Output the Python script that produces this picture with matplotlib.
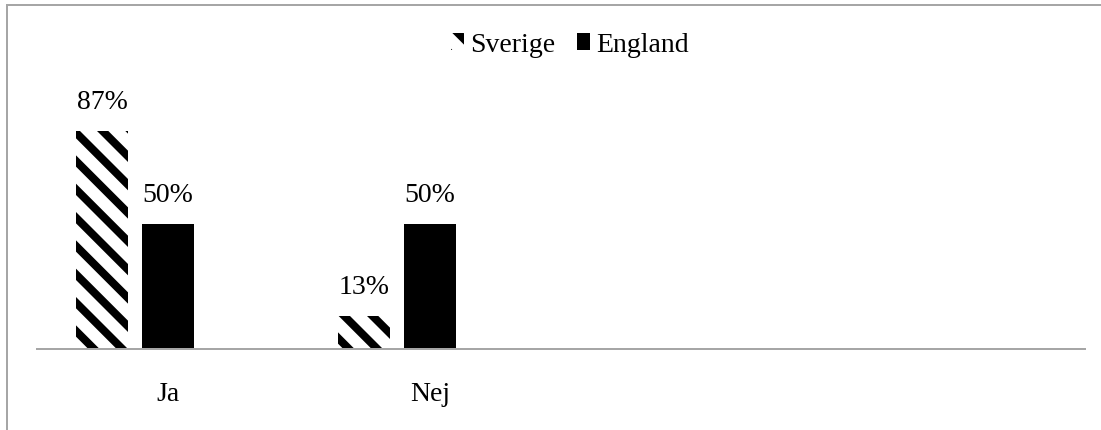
import matplotlib
matplotlib.use('Agg')
import matplotlib.pyplot as plt
from matplotlib.lines import Line2D
import numpy as np

categories = ['Ja', 'Nej']
series = ['Sverige', 'England']
sverige = [87, 13]
england = [50, 50]

W, H = 1101, 430
DPI = 170  # hatch spacing scales with dpi


def pt(px):
    return px * 72 / DPI


plt.rcParams['font.family'] = ['Liberation Serif', 'DejaVu Serif']
plt.rcParams['font.size'] = pt(27.8)
plt.rcParams['hatch.linewidth'] = pt(8)
plt.rcParams['hatch.color'] = 'black'

fig = plt.figure(figsize=(W / DPI, H / DPI), dpi=DPI)
ax = fig.add_axes([37 / W, 81 / H, 1048 / W, 250.6 / H])

x = np.arange(len(categories))
w = 0.1985
step = 0.252

b1 = ax.bar(x - step, sverige, w, facecolor='white', edgecolor='black',
            linewidth=0, hatch='\\\\', label=series[0])
b2 = ax.bar(x, england, w, color='black', linewidth=0, label=series[1])

for bars, vals in [(b1, sverige), (b2, england)]:
    for rect, v in zip(bars, vals):
        ax.annotate(f'{v}%', (rect.get_x() + rect.get_width() / 2, v),
                    xytext=(0, pt(16)), textcoords='offset points',
                    ha='center', va='bottom')

ax.set_xlim(-0.5, 3.5)
ax.set_ylim(0, 100)
ax.set_xticks(x)
ax.set_xticklabels(categories)
ax.tick_params(axis='x', length=0, pad=pt(33))
ax.set_yticks([])
for s in ['top', 'right', 'left']:
    ax.spines[s].set_visible(False)
ax.spines['bottom'].set_color('#a6a6a6')
ax.spines['bottom'].set_linewidth(pt(2))

ax.legend(loc='center', bbox_to_anchor=(570 / W, 1 - 45 / H),
          bbox_transform=fig.transFigure, ncol=2, frameon=False,
          handlelength=0.47, handleheight=0.54, handletextpad=0.2,
          columnspacing=0.8, borderpad=0)

# outer frame, only top and left edges visible
fig.add_artist(Line2D([7 / W, 1], [1 - 5 / H, 1 - 5 / H],
                      transform=fig.transFigure, color='#a6a6a6', lw=pt(2)))
fig.add_artist(Line2D([7 / W, 7 / W], [0, 1 - 5 / H],
                      transform=fig.transFigure, color='#a6a6a6', lw=pt(2)))

fig.savefig('out.png', dpi=DPI)
